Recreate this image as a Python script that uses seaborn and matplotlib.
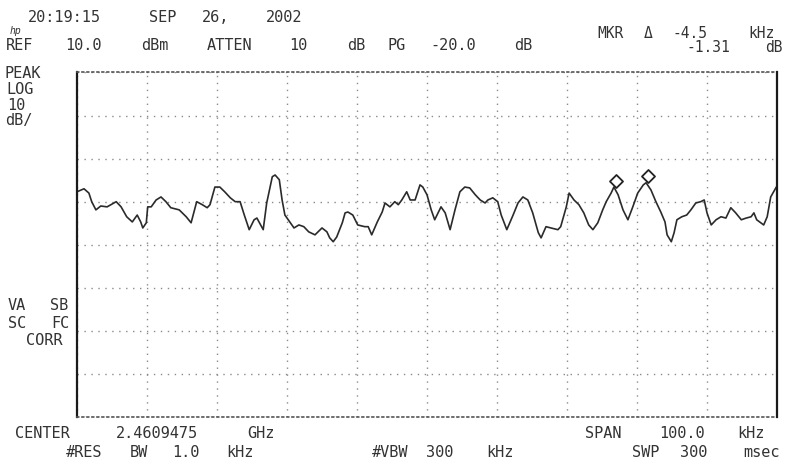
import matplotlib
matplotlib.use("Agg")
import matplotlib.pyplot as plt
import seaborn as sns
import pandas as pd

# trace: offset from center (kHz) and level (dBm)
freq_khz = [
    -50.0, -49.0, -48.3, -47.9, -47.3, -46.6, -45.7, -44.4, -43.7, -42.9, -42.1, -41.4,
    -40.9, -40.6, -40.1, -39.9, -39.4, -38.7, -38.0, -37.3, -36.6, -35.4, -34.4, -33.7,
    -32.9, -32.1, -31.4, -31.0, -30.3, -29.6, -28.9, -28.1, -27.4, -26.7, -26.1, -25.4,
    -24.7, -24.3, -23.4, -22.9, -22.1, -21.7, -21.1, -20.7, -20.3, -19.6, -19.0, -18.3,
    -17.6, -16.9,
    -16.0, -15.0, -14.3, -13.9, -13.4, -12.9, -12.1, -11.7, -11.3, -10.6, -9.9, -8.9,
    -8.4, -7.9, -7.1, -6.4, -6.0, -5.3, -4.6, -4.1, -3.6, -2.9, -2.4, -1.7, -1.0, -0.6, 0.0,
    0.6, 1.1, 2.0, 2.6, 3.3, 4.0, 4.7, 5.4, 6.1, 6.9, 7.6, 8.3, 8.7, 9.4, 10.1, 10.6,
    11.4, 12.3, 13.0, 13.7, 14.4, 15.1, 15.9, 16.3, 17.0,
    17.7, 18.7, 19.1, 19.9, 20.3, 21.0, 21.7, 22.4, 23.1, 23.7, 24.4, 25.1, 25.6, 26.3,
    26.7, 27.3, 28.0, 28.7, 29.4, 30.1, 30.9, 31.3, 32.0, 32.7, 33.4, 34.0,
    34.3, 34.9, 35.3, 35.7, 36.4, 37.1, 37.7, 38.4, 39.1, 39.6, 40.0, 40.6, 41.3, 42.0,
    42.7, 43.4, 44.1, 44.9, 45.6, 46.3, 46.7, 47.1, 48.1, 48.6, 49.1, 49.9,
]
level_dbm = [
    -17.7, -17.0, -18.0, -20.0, -21.9, -21.0, -21.2, -20.0, -21.2, -23.5, -24.7, -23.1,
    -24.7, -26.1, -24.9, -21.2, -21.2, -19.6, -18.9, -20.0, -21.4, -21.9, -23.5, -24.9,
    -20.0, -20.7, -21.4, -20.7, -16.6, -16.6, -17.7, -19.1, -20.0, -20.0, -23.1, -26.5,
    -24.2, -23.8, -26.5, -20.3, -14.2, -13.8, -14.9, -19.6, -23.1, -24.7, -26.1, -25.4,
    -25.8, -27.0,
    -27.7, -26.1, -27.0, -28.4, -29.3, -28.2, -24.9, -22.6, -22.4, -23.1, -25.4, -25.8,
    -25.8, -27.7, -24.7, -22.4, -20.3, -21.2, -20.0, -20.7, -19.6, -17.7, -19.6, -19.6,
    -16.1, -16.6, -18.4,
    -21.9, -24.2, -21.2, -22.6, -26.5, -21.9, -17.7, -16.6, -16.8, -18.4, -19.6, -20.3,
    -19.6, -19.1, -20.0, -23.1, -26.5, -23.1, -20.3, -18.9, -19.6, -22.6, -27.2, -28.4, -25.8,
    -26.1, -26.5, -25.8, -21.2, -18.0, -19.6, -20.7, -22.6, -25.4, -26.5, -24.9, -21.9,
    -20.0, -18.0, -16.6, -18.4, -21.9, -24.2, -21.2, -18.0, -16.1, -15.6, -17.3, -20.0,
    -22.4, -24.7,
    -27.7, -29.3, -27.2, -24.2, -23.5, -23.1, -21.9, -20.3, -20.0, -19.6, -22.6, -25.4,
    -24.2, -23.5, -23.8, -21.4, -22.6, -24.2, -23.8, -23.5, -22.6, -24.2, -25.4, -23.5,
    -18.9, -16.6,
]

# markers: delta marker and reference marker
marker_khz = [27.0, 31.5]
marker_dbm = [-15.31, -14.0]

ref_level = 10.0
db_per_div = 10
n_ydiv = 8
span_khz = 100.0

trace = pd.DataFrame({"freq": freq_khz, "level": level_dbm})
markers = pd.DataFrame({"freq": marker_khz, "level": marker_dbm})

sns.set_style("white")
plt.rcParams["font.family"] = ["DejaVu Sans Mono", "DejaVu Sans"]

W, H = 796, 461
fig = plt.figure(figsize=(W / 100, H / 100), dpi=100)
ax = fig.add_axes([77 / W, (H - 417) / H, 700 / W, (417 - 72.5) / H])

sns.lineplot(data=trace, x="freq", y="level", ax=ax, color="#2b2b2b", linewidth=1.2)
sns.scatterplot(data=markers, x="freq", y="level", ax=ax, marker="D", s=44,
                facecolor="white", edgecolor="#222222", linewidth=1.3, zorder=5)

ax.set_xlim(-span_khz / 2, span_khz / 2)
ax.set_ylim(ref_level - n_ydiv * db_per_div, ref_level)
ax.set_xticks([-50 + 10 * i for i in range(11)])
ax.set_yticks([ref_level - db_per_div * i for i in range(n_ydiv + 1)])
ax.tick_params(length=0, labelbottom=False, labelleft=False)
ax.set_xlabel("")
ax.set_ylabel("")
ax.grid(True, linestyle=(0, (1, 4)), color="#8a8a8a", linewidth=1.0)

for side in ["left", "right"]:
    ax.spines[side].set_color("#1a1a1a")
    ax.spines[side].set_linewidth(1.6)
for side in ["top", "bottom"]:
    ax.spines[side].set_color("#555555")
    ax.spines[side].set_linewidth(1.2)
    ax.spines[side].set_linestyle((0, (1, 2)))

txt_color = "#333333"
fs = 11


def put(cx, py, s, size=fs, ha="center", **kw):
    # words are placed where they sit in the printout
    fig.text(cx / W, 1 - py / H, s, ha=ha, va="center", fontsize=size,
             color=txt_color, **kw)


# header
for cx, s in [(64, "20:19:15"), (163, "SEP"), (216, "26,"), (284, "2002")]:
    put(cx, 18, s)
put(15, 31, "hp", size=7, style="italic")
for cx, s in [(20, "REF"), (83, "10.0"), (155, "dBm"), (230, "ATTEN"), (298, "10"),
              (356, "dB"), (397, "PG"), (453, "-20.0"), (523, "dB")]:
    put(cx, 45, s)
for cx, s in [(611, "MKR"), (648, "\u0394"), (690, "-4.5"), (762, "kHz")]:
    put(cx, 33, s, size=10.5)
for cx, s in [(708, "-1.31"), (774, "dB")]:
    put(cx, 47, s, size=10.5)

# left annotations
for lx, py, s in [(5, 73, "PEAK"), (6, 90, "LOG"), (7, 106, "10"), (5, 121, "dB/")]:
    put(lx, py, s, ha="left")
for cx, py, s in [(17, 305, "VA"), (59, 305, "SB"), (17, 324, "SC"), (60, 324, "FC"),
                  (44, 340, "CORR")]:
    put(cx, py, s)

# footer
for cx, s in [(42, "CENTER"), (157, "2.4609475"), (261, "GHz"),
              (603, "SPAN"), (682, "100.0"), (751, "kHz")]:
    put(cx, 433, s)
for cx, s in [(84, "#RES"), (139, "BW"), (186, "1.0"), (240, "kHz"),
              (390, "#VBW"), (440, "300"), (500, "kHz"),
              (646, "SWP"), (694, "300"), (762, "msec")]:
    put(cx, 452, s)

fig.savefig("out.png", dpi=100)
